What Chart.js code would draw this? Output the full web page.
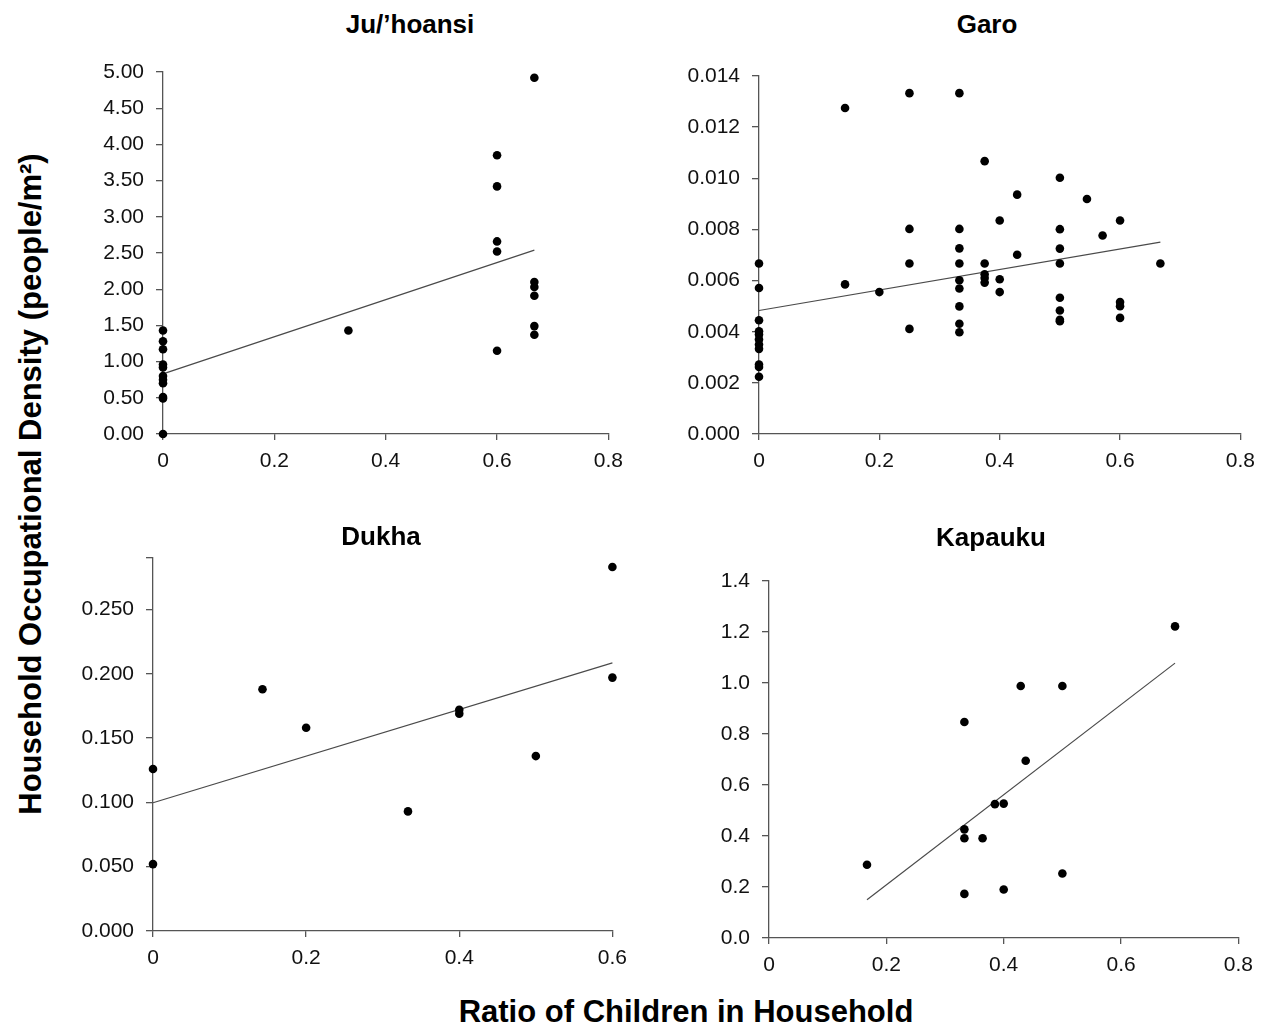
<!DOCTYPE html>
<html>
<head>
<meta charset="utf-8">
<script src="https://cdn.jsdelivr.net/npm/chart.js@4.4.1/dist/chart.umd.min.js"></script>
<style>
    body { margin: 0; background: #fff; }
    #page { position: relative; width: 1265px; height: 1028px; overflow: hidden; font-family: 'Liberation Sans', Arial, sans-serif; color: #000; }
    canvas { position: absolute; }
    .title { position: absolute; transform: translate(-50%, -50%); font-weight: bold; font-size: 26px; white-space: nowrap; }
    .axis-title { position: absolute; font-weight: bold; font-size: 31px; white-space: nowrap; }
    #yTitle { left: 31px; top: 484px; transform: translate(-50%, -50%) rotate(-90deg); }
    #xTitle { left: 686px; top: 1012px; transform: translate(-50%, -50%); }
</style>
</head>
<body>
<div id="page">
    <canvas id="juChart"></canvas>
    <canvas id="garoChart"></canvas>
    <canvas id="dukhaChart"></canvas>
    <canvas id="kapaukuChart"></canvas>
    <div class="title" style="left:410px; top:24px;">Ju/’hoansi</div>
    <div class="title" style="left:987px; top:24px;">Garo</div>
    <div class="title" style="left:381px; top:536px;">Dukha</div>
    <div class="title" style="left:991px; top:537px;">Kapauku</div>
    <div class="axis-title" id="yTitle">Household Occupational Density (people/m²)</div>
    <div class="axis-title" id="xTitle">Ratio of Children in Household</div>
</div>
<script>
// Ju/'hoansi
const juX = [0, 0, 0, 0, 0, 0, 0, 0, 0, 0, 0, 0.333, 0.6, 0.6, 0.6, 0.6, 0.6, 0.667, 0.667, 0.667, 0.667, 0.667, 0.667];
const juY = [1.43, 1.28, 1.17, 0.96, 0.92, 0.80, 0.75, 0.70, 0.51, 0.49, 0.00, 1.43, 3.85, 3.42, 2.66, 2.52, 1.15, 4.92, 2.10, 2.03, 1.91, 1.49, 1.37];
const juTrendX = [0, 0.667];
const juTrendY = [0.83, 2.54];
const juYLabels = ['0.00', '0.50', '1.00', '1.50', '2.00', '2.50', '3.00', '3.50', '4.00', '4.50', '5.00'];

// Garo
const garoX = [0, 0, 0, 0, 0, 0, 0, 0, 0, 0, 0,
    0.143, 0.143, 0.2,
    0.25, 0.25, 0.25, 0.25,
    0.333, 0.333, 0.333, 0.333, 0.333, 0.333, 0.333, 0.333, 0.333,
    0.375, 0.375, 0.375, 0.375, 0.375,
    0.4, 0.4, 0.4, 0.429, 0.429,
    0.5, 0.5, 0.5, 0.5, 0.5, 0.5, 0.5, 0.5,
    0.545, 0.571, 0.6, 0.6, 0.6, 0.6, 0.667];
const garoY = [0.00667, 0.00571, 0.00445, 0.00402, 0.00389, 0.00370, 0.00350, 0.00333, 0.00272, 0.00262, 0.00224,
    0.01275, 0.00585, 0.00555,
    0.01333, 0.00802, 0.00667, 0.00411,
    0.01333, 0.00802, 0.00726, 0.00667, 0.00601, 0.00569, 0.00499, 0.00431, 0.00398,
    0.01067, 0.00667, 0.00625, 0.00610, 0.00592,
    0.00835, 0.00605, 0.00555, 0.00936, 0.00701,
    0.01002, 0.00801, 0.00725, 0.00667, 0.00533, 0.00483, 0.00447, 0.00441,
    0.00919, 0.00776, 0.00835, 0.00516, 0.00500, 0.00454, 0.00667];
const garoTrendX = [0, 0.667];
const garoTrendY = [0.00483, 0.00750];
const garoYLabels = ['0.000', '0.002', '0.004', '0.006', '0.008', '0.010', '0.012', '0.014'];

// Dukha
const dukhaX = [0, 0, 0.143, 0.2, 0.333, 0.4, 0.4, 0.5, 0.6, 0.6];
const dukhaY = [0.126, 0.052, 0.188, 0.158, 0.093, 0.172, 0.169, 0.136, 0.283, 0.197];
const dukhaTrendX = [0, 0.6];
const dukhaTrendY = [0.0997, 0.2085];
const dukhaYLabels = ['0.000', '0.050', '0.100', '0.150', '0.200', '0.250'];

// Kapauku
const kapX = [0.167, 0.333, 0.333, 0.333, 0.333, 0.364, 0.385, 0.4, 0.4, 0.429, 0.4375, 0.5, 0.5, 0.692];
const kapY = [0.287, 0.847, 0.426, 0.391, 0.173, 0.391, 0.525, 0.527, 0.190, 0.988, 0.695, 0.988, 0.253, 1.222];
const kapTrendX = [0.167, 0.692];
const kapTrendY = [0.150, 1.078];
const kapYLabels = ['0.0', '0.2', '0.4', '0.6', '0.8', '1.0', '1.2', '1.4'];

const xLabels = ['0', '0.2', '0.4', '0.6', '0.8'];
const dukhaXLabels = ['0', '0.2', '0.4', '0.6'];

document.addEventListener('DOMContentLoaded', function () {
    const axisColor = '#555';
    const tickFont = { family: "'Liberation Sans', Arial, sans-serif", size: 21 };
    const yAxisWidth = 85;
    const xAxisHeight = 45;
    const padTop = 30;
    const padRight = 22;

    const toPoints = (xs, ys) => xs.map((x, i) => ({ x: x, y: ys[i] }));

    // includeBounds=false lets the axis run past the last labelled tick (Dukha)
    const makeAxis = (min, max, step, labels, horizontal, includeBounds = true) => ({
        type: 'linear',
        min: min,
        max: max,
        bounds: 'data',
        grid: {
            drawOnChartArea: false,
            drawTicks: true,
            tickLength: horizontal ? 6 : 7,
            color: axisColor,
            lineWidth: 1.3
        },
        border: { display: true, color: axisColor, width: 1.3 },
        ticks: {
            stepSize: step,
            includeBounds: includeBounds,
            autoSkip: false,
            maxRotation: 0,
            color: '#111',
            font: tickFont,
            padding: horizontal ? 9 : 12,
            callback: (value, index) => labels[index] ?? ''
        },
        afterFit: function (scale) {
            if (horizontal) {
                scale.height = xAxisHeight;
            } else {
                scale.width = yAxisWidth;
            }
        }
    });

    function makePanel(id, area, points, trend, xAxis, yAxis) {
        const canvas = document.getElementById(id);
        canvas.width = area.r - area.l + yAxisWidth + padRight;
        canvas.height = area.b - area.t + padTop + xAxisHeight;
        canvas.style.left = (area.l - yAxisWidth) + 'px';
        canvas.style.top = (area.t - padTop) + 'px';

        new Chart(canvas.getContext('2d'), {
            type: 'scatter',
            data: {
                datasets: [
                    {
                        data: points,
                        backgroundColor: '#000',
                        borderWidth: 0,
                        pointRadius: 4.3,
                        clip: false,
                        order: 0
                    },
                    {
                        data: trend,
                        showLine: true,
                        borderColor: '#4a4a4a',
                        borderWidth: 1.2,
                        pointRadius: 0,
                        fill: false,
                        clip: false,
                        order: 1
                    }
                ]
            },
            options: {
                responsive: false,
                animation: false,
                layout: { padding: { top: padTop, right: padRight, left: 0, bottom: 0 } },
                plugins: {
                    legend: { display: false },
                    tooltip: { enabled: false }
                },
                scales: { x: xAxis, y: yAxis }
            }
        });
    }

    makePanel('juChart', { l: 163, r: 610, t: 72, b: 434 },
        toPoints(juX, juY), toPoints(juTrendX, juTrendY),
        makeAxis(0, 0.8, 0.2, xLabels, true),
        makeAxis(0, 5, 0.5, juYLabels, false));

    makePanel('garoChart', { l: 759, r: 1242, t: 76, b: 434 },
        toPoints(garoX, garoY), toPoints(garoTrendX, garoTrendY),
        makeAxis(0, 0.8, 0.2, xLabels, true),
        makeAxis(0, 0.014, 0.002, garoYLabels, false));

    makePanel('dukhaChart', { l: 153, r: 614, t: 558, b: 931 },
        toPoints(dukhaX, dukhaY), toPoints(dukhaTrendX, dukhaTrendY),
        makeAxis(0, 0.6, 0.2, dukhaXLabels, true),
        makeAxis(0, 0.29, 0.05, dukhaYLabels, false, false));

    makePanel('kapaukuChart', { l: 769, r: 1240, t: 581, b: 938 },
        toPoints(kapX, kapY), toPoints(kapTrendX, kapTrendY),
        makeAxis(0, 0.8, 0.2, xLabels, true),
        makeAxis(0, 1.4, 0.2, kapYLabels, false));
});
</script>
</body>
</html>
